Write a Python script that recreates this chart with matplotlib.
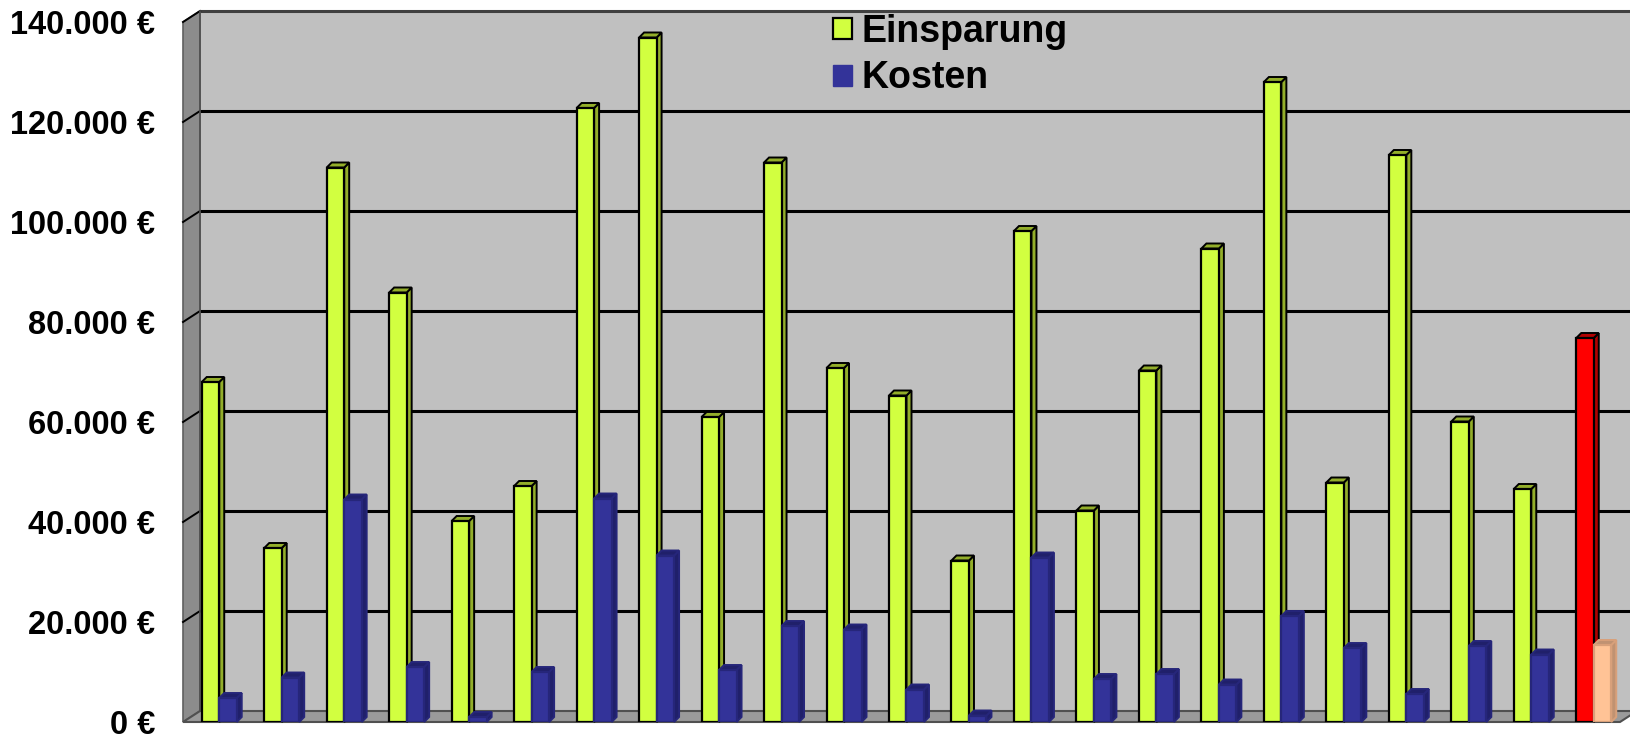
import matplotlib
matplotlib.use("Agg")
import matplotlib.pyplot as plt
from matplotlib.patches import Polygon, Patch
import numpy as np

# Savings and costs per measure (EUR); the last group is the overall average
einsparung = [68000, 34800, 110900, 85900, 40200, 47200, 122800, 136900, 61000,
              111900, 70800, 65300, 32300, 98200, 42300, 70300, 94700, 128000,
              47900, 113400, 60100, 46600, 76800]
kosten = [4800, 8900, 44500, 11000, 1000, 10000, 44700, 33300, 10400, 19200,
          18500, 6500, 1300, 32900, 8600, 9600, 7500, 21200, 14800, 5600,
          15200, 13500, 15400]
series_names = ["Einsparung", "Kosten"]
ytick_values = [0, 20000, 40000, 60000, 80000, 100000, 120000, 140000]
ytick_labels = ["0 €", "20.000 €", "40.000 €", "60.000 €", "80.000 €",
                "100.000 €", "120.000 €", "140.000 €"]

W, H = 1631, 738
fig = plt.figure(figsize=(W / 100, H / 100), dpi=100)
fig.patch.set_facecolor("white")

ax_left, ax_bottom, ax_w, ax_h = 183, 16, 1437, 700
ax = fig.add_axes([ax_left / W, ax_bottom / H, ax_w / W, ax_h / H])
n = len(einsparung)
ymax = 140000
ax.set_xlim(0, n)
ax.set_ylim(0, ymax)
ax.patch.set_visible(False)
for s in ax.spines.values():
    s.set_visible(False)

# pixel -> data conversions for the pseudo-3D depth
px_x = n / ax_w
px_y = ymax / ax_h
wall_dx, wall_dy = 17 * px_x, 11 * px_y
bar_dx, bar_dy = 5 * px_x, 5 * px_y

wall_gray = "#C0C0C0"
side_gray = "#8C8C8C"
floor_gray = "#9A9A9A"

# back wall
ax.add_patch(Polygon([(wall_dx, wall_dy), (n + wall_dx, wall_dy),
                      (n + wall_dx, ymax + wall_dy), (wall_dx, ymax + wall_dy)],
                     closed=True, fc=wall_gray, ec="none", zorder=0, clip_on=False))
# left side wall
ax.add_patch(Polygon([(0, 0), (wall_dx, wall_dy), (wall_dx, ymax + wall_dy), (0, ymax)],
                     closed=True, fc=side_gray, ec="#606060", lw=1.2, zorder=0.5,
                     clip_on=False))
# floor
ax.add_patch(Polygon([(0, 0), (n, 0), (n + wall_dx, wall_dy), (wall_dx, wall_dy)],
                     closed=True, fc=floor_gray, ec="#505050", lw=1.5, zorder=0.6,
                     clip_on=False))

# gridlines on the back wall and the side wall
for v in ytick_values[1:]:
    col = "black" if v < ymax else "#404040"
    ax.plot([wall_dx, n + wall_dx], [v + wall_dy, v + wall_dy], color=col, lw=2.2,
            zorder=0.7, clip_on=False, solid_capstyle="butt")
    ax.plot([0, wall_dx], [v, v + wall_dy], color="black", lw=1.4, zorder=0.7,
            clip_on=False)
ax.plot([wall_dx, wall_dx], [wall_dy, ymax + wall_dy], color="#505050", lw=1.2,
        zorder=0.7, clip_on=False)

bar_w = 0.28
green_x = np.arange(n) + 0.30
blue_x = green_x + bar_w

green_face = ["#D2FF40"] * (n - 1) + ["#FF0000"]
green_side = ["#93AE2A"] * (n - 1) + ["#B00000"]
blue_face = ["#333399"] * (n - 1) + ["#FFC396"]
blue_side = ["#20206A"] * (n - 1) + ["#C09272"]


def draw_series(xs, vals, faces, sides, edges, z):
    bars = ax.bar(xs, vals, width=bar_w, align="edge", color=faces,
                  edgecolor=edges, linewidth=1.6, zorder=z + 0.2)
    for rect, fc_side, ec in zip(bars, sides, edges):
        x0 = rect.get_x()
        w = rect.get_width()
        v = rect.get_height()
        side = [(x0 + w, 0), (x0 + w + bar_dx, bar_dy), (x0 + w + bar_dx, v + bar_dy),
                (x0 + w, v)]
        top = [(x0, v), (x0 + bar_dx, v + bar_dy), (x0 + w + bar_dx, v + bar_dy),
               (x0 + w, v)]
        ax.add_patch(Polygon(side, closed=True, fc=fc_side, ec=ec, lw=1.4, zorder=z,
                             clip_on=False))
        ax.add_patch(Polygon(top, closed=True, fc=fc_side, ec=ec, lw=1.4, zorder=z + 0.1,
                             clip_on=False))
    return bars


draw_series(green_x, einsparung, green_face, green_side, ["black"] * n, 3)
draw_series(blue_x, kosten, blue_face, blue_side,
            ["#26267A"] * (n - 1) + ["#D8A07A"], 4)

# axis labels
ax.set_xticks([])
ax.set_yticks(ytick_values)
ax.set_yticklabels(ytick_labels, fontfamily="Liberation Sans", fontweight="bold",
                   fontsize=23.5)
ax.tick_params(axis="y", length=0, pad=20)

# legend
handles = [Patch(fc="#D2FF40", ec="black", lw=1.6), Patch(fc="#333399", ec="#333399")]
leg = ax.legend(handles, series_names, loc="upper left",
                bbox_to_anchor=(833 / W, 1 - 14 / H), bbox_transform=fig.transFigure,
                frameon=False, prop=dict(family="Liberation Sans", weight="bold", size=27),
                handlelength=0.5, handleheight=0.5, handletextpad=0.25,
                labelspacing=0.28, borderpad=0, borderaxespad=0)
leg.set_zorder(10)

fig.savefig("out.png", dpi=100)
